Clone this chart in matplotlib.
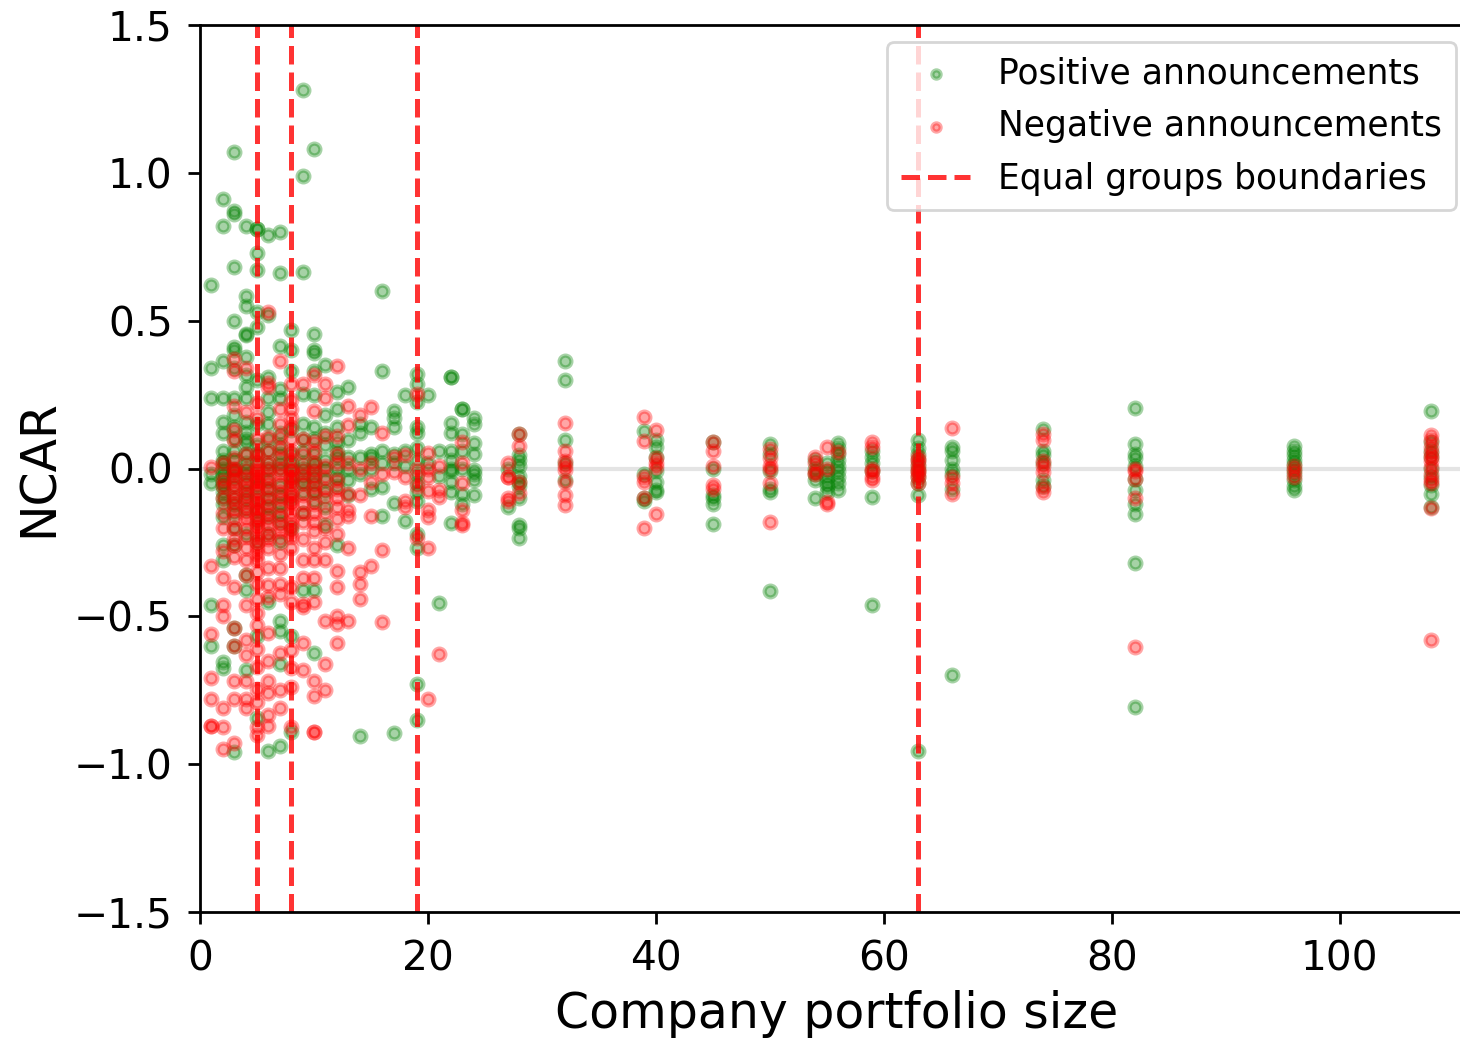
import matplotlib
matplotlib.use("Agg")
import matplotlib.pyplot as plt

# portfolio sizes and NCAR values per size
sizes = [1, 2, 3, 4, 5, 6, 7, 8, 9, 10, 11, 12, 13, 14, 15, 16, 17, 18, 19, 20,
         21, 22, 23, 24, 27, 28, 32, 39, 40, 45, 50, 54, 55, 56, 59, 63, 66,
         74, 82, 96, 108]

pos_ncar = [
    [0.62, 0.34, 0.24, -0.02, -0.05, -0.46, -0.60],
    [0.91, 0.82, 0.365, 0.24, 0.157, 0.12, 0.06, 0.03, 0.02, 0.0, -0.02, -0.03,
     -0.05, -0.06, -0.08, -0.10, -0.12, -0.165, -0.26, -0.31, -0.655, -0.675],
    [1.07, 0.87, 0.86, 0.68, 0.50, 0.41, 0.40, 0.34, 0.24, 0.18, 0.14, 0.10,
     0.06, 0.03, 0.0, -0.01, -0.03, -0.06, -0.10, -0.12, -0.15, -0.20, -0.26,
     -0.54, -0.60, -0.96],
    [0.82, 0.585, 0.55, 0.455, 0.45, 0.376, 0.315, 0.275, 0.237, 0.157, 0.123,
     0.10, 0.085, 0.05, 0.017, 0.0, -0.02, -0.05, -0.08, -0.10, -0.14, -0.22,
     -0.36, -0.41, -0.68],
    [0.81, 0.81, 0.73, 0.67, 0.53, 0.48, 0.30, 0.15, 0.08, 0.05, 0.02, -0.03,
     -0.06, -0.10, -0.14, -0.18, -0.25, -0.565, -0.845],
    [0.79, 0.52, 0.31, 0.24, 0.19, 0.15, 0.10, 0.06, 0.02, 0.0, -0.04, -0.07,
     -0.10, -0.13, -0.16, -0.22, -0.45, -0.955],
    [0.80, 0.66, 0.416, 0.27, 0.237, 0.12, 0.08, 0.05, 0.02, 0.0, -0.06, -0.09,
     -0.12, -0.15, -0.18, -0.25, -0.515, -0.55, -0.66, -0.94],
    [0.467, 0.40, 0.33, 0.13, 0.05, 0.02, 0.0, -0.03, -0.05, -0.10, -0.2,
     -0.565, -0.89],
    [1.28, 0.99, 0.665, 0.253, 0.152, 0.10, 0.06, 0.02, 0.0, -0.03, -0.05,
     -0.08, -0.15, -0.41],
    [1.08, 0.455, 0.40, 0.39, 0.33, 0.25, 0.14, 0.10, 0.05, 0.02, 0.0, -0.03,
     -0.05, -0.08, -0.11, -0.41, -0.625],
    [0.35, 0.18, 0.12, 0.08, 0.03, 0.0, -0.04, -0.08, -0.13, -0.19],
    [0.26, 0.2, 0.14, 0.09, 0.06, 0.04, 0.0, -0.03, -0.06, -0.26],
    [0.275, 0.095, 0.04, 0.0, -0.04, -0.09],
    [0.15, 0.12, 0.04, -0.02, -0.905],
    [0.14, 0.05, 0.04, 0.0, -0.07],
    [0.60, 0.33, 0.06, 0.02, -0.064, -0.16],
    [0.196, 0.17, 0.14, 0.05, 0.02, -0.115, -0.895],
    [0.247, 0.06, 0.01, -0.176],
    [0.32, 0.287, 0.224, 0.14, 0.12, 0.07, 0.03, -0.02, -0.05, -0.08, -0.11,
     -0.22, -0.27, -0.73, -0.85],
    [0.25, 0.02],
    [0.06, -0.024, -0.455],
    [0.31, 0.31, 0.155, 0.12, 0.06, 0.03, 0.0, -0.007, -0.047, -0.08, -0.186],
    [0.2, 0.2, 0.118, 0.06, 0.0, -0.085, -0.12],
    [0.17, 0.152, 0.085, 0.05, -0.005, -0.02, -0.04, -0.09],
    [0.0, -0.13],
    [0.118, 0.044, 0.03, 0.01, -0.024, -0.047, -0.06, -0.10, -0.19, -0.20, -0.234],
    [0.362, 0.30, 0.095, 0.02, -0.04],
    [0.126, -0.018, -0.10, -0.11],
    [0.095, 0.072, 0.04, -0.01, -0.046, -0.074, -0.08],
    [0.09, 0.0, -0.09, -0.10, -0.12, -0.187],
    [0.084, 0.05, -0.007, -0.068, -0.08, -0.413],
    [0.03, 0.0, -0.02, -0.04, -0.10],
    [0.02, -0.01, -0.03, -0.05, -0.06, -0.08],
    [0.086, 0.07, 0.05, 0.03, 0.01, -0.01, -0.03, -0.05, -0.074],
    [0.06, 0.04, 0.02, -0.01, -0.097, -0.46],
    [0.095, 0.07, 0.05, 0.03, 0.01, -0.01, -0.03, -0.05, -0.09, -0.955],
    [0.074, 0.06, 0.03, 0.0, -0.02, -0.068, -0.70],
    [0.134, 0.06, 0.044, 0.02, -0.04, -0.06],
    [0.203, 0.084, 0.05, 0.034, 0.01, -0.034, -0.074, -0.12, -0.153, -0.32, -0.805],
    [0.077, 0.06, 0.045, 0.03, 0.015, 0.0, -0.02, -0.04, -0.06, -0.074],
    [0.193, 0.09, 0.06, 0.04, 0.0, -0.03, -0.057, -0.085, -0.13],
]

neg_ncar = [
    [0.005, -0.33, -0.56, -0.71, -0.78, -0.87, -0.87],
    [0.02, -0.04, -0.06, -0.10, -0.15, -0.20, -0.28, -0.37, -0.46, -0.50, -0.81,
     -0.875, -0.95],
    [0.37, 0.33, 0.21, 0.13, 0.095, 0.034, 0.0, -0.006, -0.02, -0.04, -0.06,
     -0.08, -0.10, -0.12, -0.14, -0.17, -0.20, -0.24, -0.26, -0.30, -0.40,
     -0.54, -0.60, -0.72, -0.78, -0.93],
    [0.34, 0.19, 0.05, 0.0, -0.03, -0.05, -0.07, -0.09, -0.11, -0.13, -0.15,
     -0.17, -0.2, -0.23, -0.27, -0.31, -0.36, -0.46, -0.58, -0.63, -0.72, -0.78,
     -0.81],
    [0.22, 0.17, 0.10, 0.05, 0.03, 0.0, -0.01, -0.02, -0.04, -0.05, -0.07,
     -0.08, -0.11, -0.12, -0.14, -0.16, -0.17, -0.19, -0.20, -0.23, -0.25,
     -0.27, -0.29, -0.31, -0.35, -0.39, -0.44, -0.49, -0.53, -0.61, -0.67,
     -0.745, -0.79, -0.875, -0.90],
    [0.53, 0.29, 0.275, 0.106, 0.06, 0.017, 0.0, -0.03, -0.05, -0.07, -0.10,
     -0.12, -0.15, -0.17, -0.19, -0.22, -0.24, -0.27, -0.335, -0.395, -0.435,
     -0.555, -0.65, -0.72, -0.76, -0.835, -0.87],
    [0.365, 0.2, 0.15, 0.105, 0.07, 0.034, 0.0, -0.02, -0.05, -0.08, -0.10,
     -0.13, -0.16, -0.19, -0.21, -0.24, -0.29, -0.335, -0.39, -0.425, -0.625,
     -0.75, -0.81],
    [0.287, 0.23, 0.2, 0.17, 0.14, 0.1, 0.06, 0.03, 0.0, -0.01, -0.03, -0.04,
     -0.06, -0.08, -0.09, -0.11, -0.12, -0.15, -0.17, -0.19, -0.21, -0.23,
     -0.27, -0.40, -0.45, -0.615, -0.675, -0.74, -0.875],
    [0.287, 0.1, 0.05, 0.0, -0.02, -0.05, -0.09, -0.12, -0.15, -0.18, -0.24,
     -0.31, -0.37, -0.457, -0.47, -0.59, -0.68],
    [0.315, 0.196, 0.09, 0.06, 0.02, -0.01, -0.03, -0.06, -0.08, -0.12, -0.15,
     -0.18, -0.21, -0.27, -0.31, -0.37, -0.45, -0.72, -0.77, -0.89, -0.89],
    [0.287, 0.24, 0.11, 0.01, -0.03, -0.07, -0.1, -0.15, -0.2, -0.25, -0.31,
     -0.515, -0.66, -0.75],
    [0.345, 0.11, 0.05, 0.02, -0.04, -0.07, -0.10, -0.13, -0.17, -0.22, -0.345,
     -0.40, -0.5, -0.525, -0.59],
    [0.213, 0.146, 0.02, -0.085, -0.14, -0.16, -0.27, -0.515],
    [0.18, 0.0, -0.09, -0.35, -0.39, -0.44],
    [0.207, 0.02, -0.047, -0.16, -0.33],
    [0.12, -0.02, -0.275, -0.52],
    [0.04, -0.013],
    [0.044, -0.03, -0.11, -0.13],
    [0.253, 0.0, -0.06, -0.235],
    [0.054, 0.0, -0.03, -0.075, -0.14, -0.165, -0.27, -0.78],
    [0.01, -0.074, -0.097, -0.627],
    [],
    [0.088, 0.02, -0.05, -0.14, -0.183, -0.19],
    [],
    [0.02, -0.03, -0.03, -0.10, -0.11],
    [0.118, 0.075, -0.047, -0.083],
    [0.155, 0.058, 0.027, 0.01, -0.005, -0.046, -0.088, -0.125],
    [0.173, 0.092, -0.03, -0.046, -0.10, -0.20],
    [0.13, 0.034, 0.005, 0.02, -0.153],
    [0.09, 0.058, 0.007, -0.055, -0.068],
    [0.067, 0.034, 0.01, 0.0, -0.05, -0.18],
    [0.038, 0.02, -0.012, -0.02],
    [0.074, 0.0, -0.113, -0.12],
    [0.055],
    [0.089, 0.072, 0.0, -0.01, -0.03, -0.04],
    [0.04, 0.03, 0.015, 0.0, -0.01, -0.02, -0.03, -0.05],
    [0.136, -0.03, -0.05, -0.085],
    [0.118, 0.095, 0.027, 0.01, -0.013, -0.064, -0.08],
    [0.0, -0.007, -0.034, -0.10, -0.604],
    [0.01, -0.01, -0.03],
    [0.112, 0.095, 0.072, 0.054, 0.04, 0.027, 0.005, -0.02, -0.04, -0.05, -0.135,
     -0.58],
]

boundaries = [5, 8, 19, 63]

pos_x = [s for s, ys in zip(sizes, pos_ncar) for _ in ys]
pos_y = [y for ys in pos_ncar for y in ys]
neg_x = [s for s, ys in zip(sizes, neg_ncar) for _ in ys]
neg_y = [y for ys in neg_ncar for y in ys]

fig = plt.figure(figsize=(7.3, 5.19), dpi=200)
ax = fig.add_axes([200 / 1460, 126 / 1038, 1273 / 1460, 887 / 1038])

ax.axhline(0, color="#d9d9d9", lw=1.5, alpha=0.7, zorder=0.5)
ax.scatter(pos_x, pos_y, s=18, color="green", alpha=0.35, lw=1.5,
           label="Positive announcements")
ax.scatter(neg_x, neg_y, s=18, color="red", alpha=0.35, lw=1.5,
           label="Negative announcements")
for i, b in enumerate(boundaries):
    ax.axvline(b, color="red", ls="--", lw=1.8, alpha=0.8,
               label="Equal groups boundaries" if i == 0 else None)

ax.set_xlim(0, 111.7)
ax.set_ylim(-1.5, 1.5)
ax.set_yticks([-1.5, -1.0, -0.5, 0.0, 0.5, 1.0, 1.5])
ax.set_xticks([0, 20, 40, 60, 80, 100])
ax.tick_params(labelsize=14.7, length=4.3, width=1.0, pad=5.5)
for sp in ax.spines.values():
    sp.set_linewidth(1.0)
ax.set_xlabel("Company portfolio size", fontsize=17.6)
ax.set_ylabel("NCAR", fontsize=17.6)
ax.legend(loc="upper right", fontsize=12.45, markerscale=0.7, labelspacing=0.55)

fig.savefig("out.png", dpi=200)
